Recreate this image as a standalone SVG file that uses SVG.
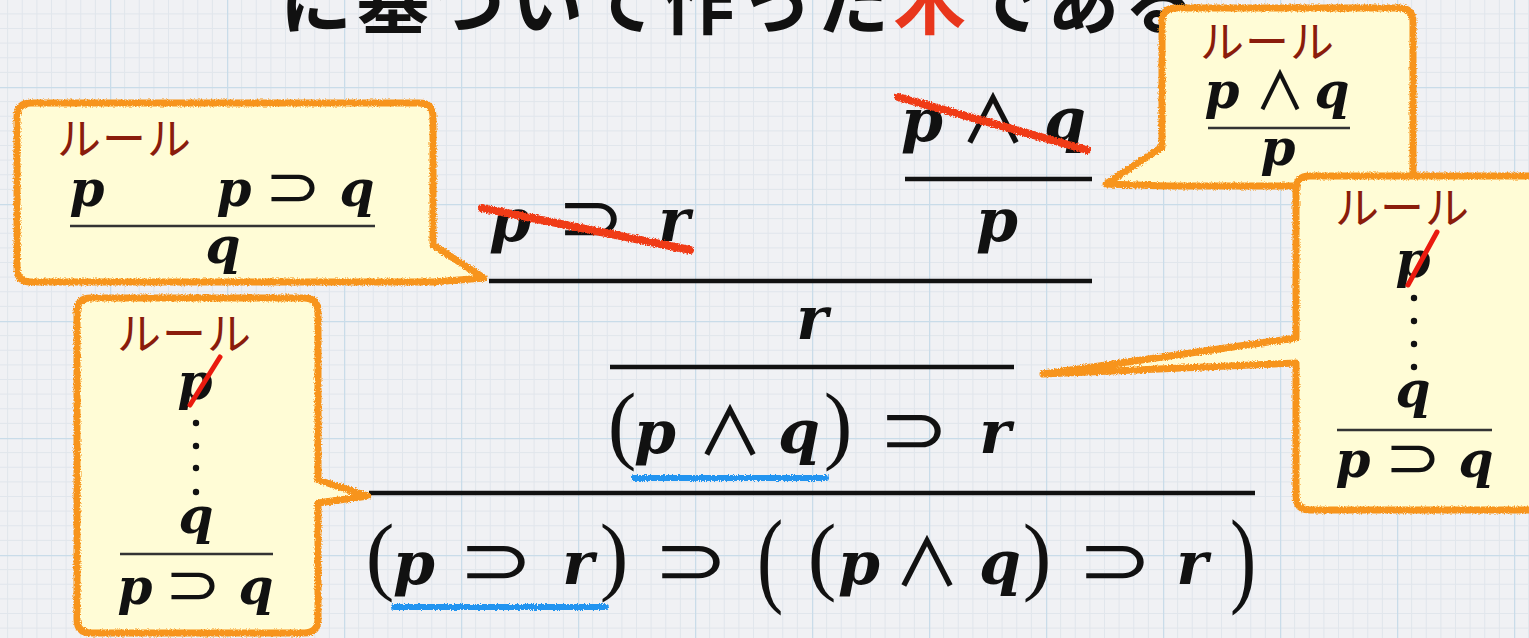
<svg xmlns="http://www.w3.org/2000/svg" width="1529" height="638" viewBox="0 0 1529 638">
<defs>
<pattern id="grid" patternUnits="userSpaceOnUse" x="-7" y="87" width="117" height="117">
<rect width="117" height="117" fill="#f0f1f4"/>
<path d="M14.6 0V117M29.25 0V117M43.9 0V117M58.5 0V117M73.1 0V117M87.75 0V117M102.4 0V117M0 14.6H117M0 29.25H117M0 43.9H117M0 58.5H117M0 73.1H117M0 87.75H117M0 102.4H117" stroke="#e1e6ec" stroke-width="1"/>
<path d="M0.5 0V117M0 0.5H117" stroke="#c9dce9" stroke-width="1.5"/>
</pattern>
<filter id="rough" filterUnits="userSpaceOnUse" x="0" y="0" width="1529" height="638">
<feTurbulence type="fractalNoise" baseFrequency="0.7" numOctaves="2" seed="4"/>
<feDisplacementMap in="SourceGraphic" scale="4" xChannelSelector="R" yChannelSelector="G"/>
</filter>
<style>
.title{font-family:"Noto Sans CJK JP","Noto Sans CJK SC",sans-serif;font-weight:bold;font-size:72px;letter-spacing:5px;fill:#111}
.m{font-family:"DejaVu Serif",serif;font-weight:bold;font-style:italic;font-size:60px;text-anchor:middle;fill:#111}
.s{font-size:50px}
.op{font-family:"DejaVu Sans",sans-serif;font-weight:normal;font-size:60px;text-anchor:middle;fill:#111}
.and{font-family:"Noto Sans CJK JP","DejaVu Sans",sans-serif;font-weight:500;font-size:60px;text-anchor:middle;fill:#111}
.ops{font-size:50px}
.par{font-family:"Liberation Serif",serif;font-weight:normal;font-style:normal;font-size:86px}
.rule{font-family:"Noto Sans CJK JP","Noto Sans CJK SC",sans-serif;font-size:44px;letter-spacing:1px;fill:#8a1c0c}
.bar{stroke:#111;stroke-width:4.5}
.sbar{stroke:#333;stroke-width:2.5}
.bf{fill:#fffcd6}
.bs{fill:none;stroke:#f7941d;stroke-width:7;stroke-linejoin:round;filter:url(#rough)}
.strike{stroke:#f03a17;stroke-width:8;stroke-linecap:round;filter:url(#rough)}
.blue{stroke:#2394f0;stroke-width:6;stroke-linecap:round;filter:url(#rough)}
.slash{stroke:#ea1a0e;stroke-width:5;stroke-linecap:round}
.dot{fill:#111}
</style>
</defs>
<rect id="background" width="1529" height="638" fill="url(#grid)"/>
<g id="title">
<text class="title" x="280" y="28">に基づいて作った<tspan fill="#e8361c">木</tspan>である</text>
</g>
<g id="connectors">
<line class="bar" x1="905" y1="179" x2="1092" y2="179"/>
<line class="bar" x1="489" y1="281" x2="1092" y2="281"/>
<line class="bar" x1="610" y1="367" x2="1014" y2="367"/>
<line class="bar" x1="369" y1="493" x2="1255" y2="493"/>
</g>
<g id="node-p-and-q">
<text class="m" y="141"><tspan x="922">p</tspan><tspan x="1065">q</tspan></text>
<text class="and" transform="translate(993 143) scale(1.1 1.1)">∧</text>
<line class="strike" x1="898" y1="97" x2="1087" y2="150"/>
</g>
<g id="node-p">
<text class="m" x="997" y="241">p</text>
</g>
<g id="node-p-implies-r">
<text class="m" y="241"><tspan x="510">p</tspan><tspan x="674">r</tspan></text>
<text class="op" transform="translate(591 241) scale(1.35 1.15)">⊃</text>
<line class="strike" x1="482" y1="208" x2="690" y2="250"/>
</g>
<g id="node-r">
<text class="m" x="812" y="339">r</text>
</g>
<g id="node-pq-implies-r">
<text class="m" y="453"><tspan class="par" x="622">(</tspan><tspan x="655">p</tspan><tspan x="799">q</tspan><tspan class="par" x="838">)</tspan><tspan x="995">r</tspan></text>
<text class="and" transform="translate(730 455) scale(1.1 1.1)">∧</text>
<text class="op" transform="translate(914 453) scale(1.4 1.15)">⊃</text>
<line class="blue" x1="634" y1="478" x2="826" y2="478"/>
</g>
<g id="node-conclusion">
<text class="m" y="584"><tspan class="par" x="380">(</tspan><tspan x="414">p</tspan><tspan x="578">r</tspan><tspan class="par" x="614">)</tspan><tspan class="par" x="822">(</tspan><tspan x="859">p</tspan><tspan x="1000">q</tspan><tspan class="par" x="1037">)</tspan><tspan x="1192">r</tspan></text>
<text class="op" transform="translate(496 584) scale(1.5 1.15)">⊃</text>
<text class="op" transform="translate(691 584) scale(1.5 1.15)">⊃</text>
<text class="and" transform="translate(927 586) scale(1.1 1.1)">∧</text>
<text class="op" transform="translate(1115 584) scale(1.5 1.15)">⊃</text>
<text class="m par" style="font-size:105px" transform="translate(770 593) scale(0.75 1)" x="0" y="0">(</text>
<text class="m par" style="font-size:105px" transform="translate(1243 593) scale(0.75 1)" x="0" y="0">)</text>
<line class="blue" x1="394" y1="607" x2="606" y2="607"/>
</g>
<g id="callout-modus-ponens">
<path class="bf" d="M31 103H419Q433 103 433 117V245L484 278L433 282H31Q17 282 17 268V117Q17 103 31 103Z"/>
<path class="bs" d="M31 103H419Q433 103 433 117V245L484 278L433 282H31Q17 282 17 268V117Q17 103 31 103Z"/>
<text class="rule" x="57" y="155">ルール</text>
<text class="m s" y="206"><tspan x="87">p</tspan><tspan x="234">p</tspan><tspan x="357">q</tspan></text>
<text class="op ops" transform="translate(293 206) scale(1.35 1.15)">⊃</text>
<line class="sbar" x1="70" y1="226" x2="375" y2="226"/>
<text class="m s" x="223" y="263">q</text>
</g>
<g id="callout-and-elim">
<path class="bf" d="M1176 8H1399Q1413 8 1413 22V172Q1413 186 1399 186H1166L1106 184L1162 147V22Q1162 8 1176 8Z"/>
<path class="bs" d="M1176 8H1399Q1413 8 1413 22V172Q1413 186 1399 186H1166L1106 184L1162 147V22Q1162 8 1176 8Z"/>
<text class="rule" x="1200" y="58">ルール</text>
<text class="m s" y="108"><tspan x="1222">p</tspan><tspan x="1332">q</tspan></text>
<text class="and ops" transform="translate(1280 110) scale(1.0 1.05)">∧</text>
<line class="sbar" x1="1208" y1="128" x2="1350" y2="128"/>
<text class="m s" x="1278" y="165">p</text>
</g>
<g id="callout-impl-intro-right">
<path class="bf" d="M1310 176H1548V510H1310Q1296 510 1296 496V363L1043 374L1296 338V190Q1296 176 1310 176Z"/>
<path class="bs" d="M1310 176H1548V510H1310Q1296 510 1296 496V363L1043 374L1296 338V190Q1296 176 1310 176Z"/>
<text class="rule" x="1335" y="224">ルール</text>
<text class="m s" x="1413" y="277">p</text>
<line class="slash" x1="1437" y1="232" x2="1408" y2="285"/>
<circle class="dot" cx="1414" cy="298" r="3.2"/>
<circle class="dot" cx="1414" cy="321" r="3.2"/>
<circle class="dot" cx="1414" cy="344" r="3.2"/>
<circle class="dot" cx="1414" cy="367" r="3.2"/>
<text class="m s" x="1413" y="407">q</text>
<line class="sbar" x1="1337" y1="430" x2="1492" y2="430"/>
<text class="m s" y="477"><tspan x="1353">p</tspan><tspan x="1476">q</tspan></text>
<text class="op ops" transform="translate(1413 477) scale(1.35 1.15)">⊃</text>
</g>
<g id="callout-impl-intro-left">
<path class="bf" d="M91 298H304Q318 298 318 312V480L368 496L318 503V619Q318 633 304 633H91Q77 633 77 619V312Q77 298 91 298Z"/>
<path class="bs" d="M91 298H304Q318 298 318 312V480L368 496L318 503V619Q318 633 304 633H91Q77 633 77 619V312Q77 298 91 298Z"/>
<text class="rule" x="117" y="350">ルール</text>
<text class="m s" x="195" y="399">p</text>
<line class="slash" x1="220" y1="357" x2="190" y2="405"/>
<circle class="dot" cx="196" cy="423" r="3.2"/>
<circle class="dot" cx="196" cy="446" r="3.2"/>
<circle class="dot" cx="196" cy="468" r="3.2"/>
<circle class="dot" cx="196" cy="492" r="3.2"/>
<text class="m s" x="196" y="533">q</text>
<line class="sbar" x1="120" y1="554" x2="273" y2="554"/>
<text class="m s" y="604"><tspan x="135">p</tspan><tspan x="256">q</tspan></text>
<text class="op ops" transform="translate(193 604) scale(1.35 1.15)">⊃</text>
</g>
</svg>
